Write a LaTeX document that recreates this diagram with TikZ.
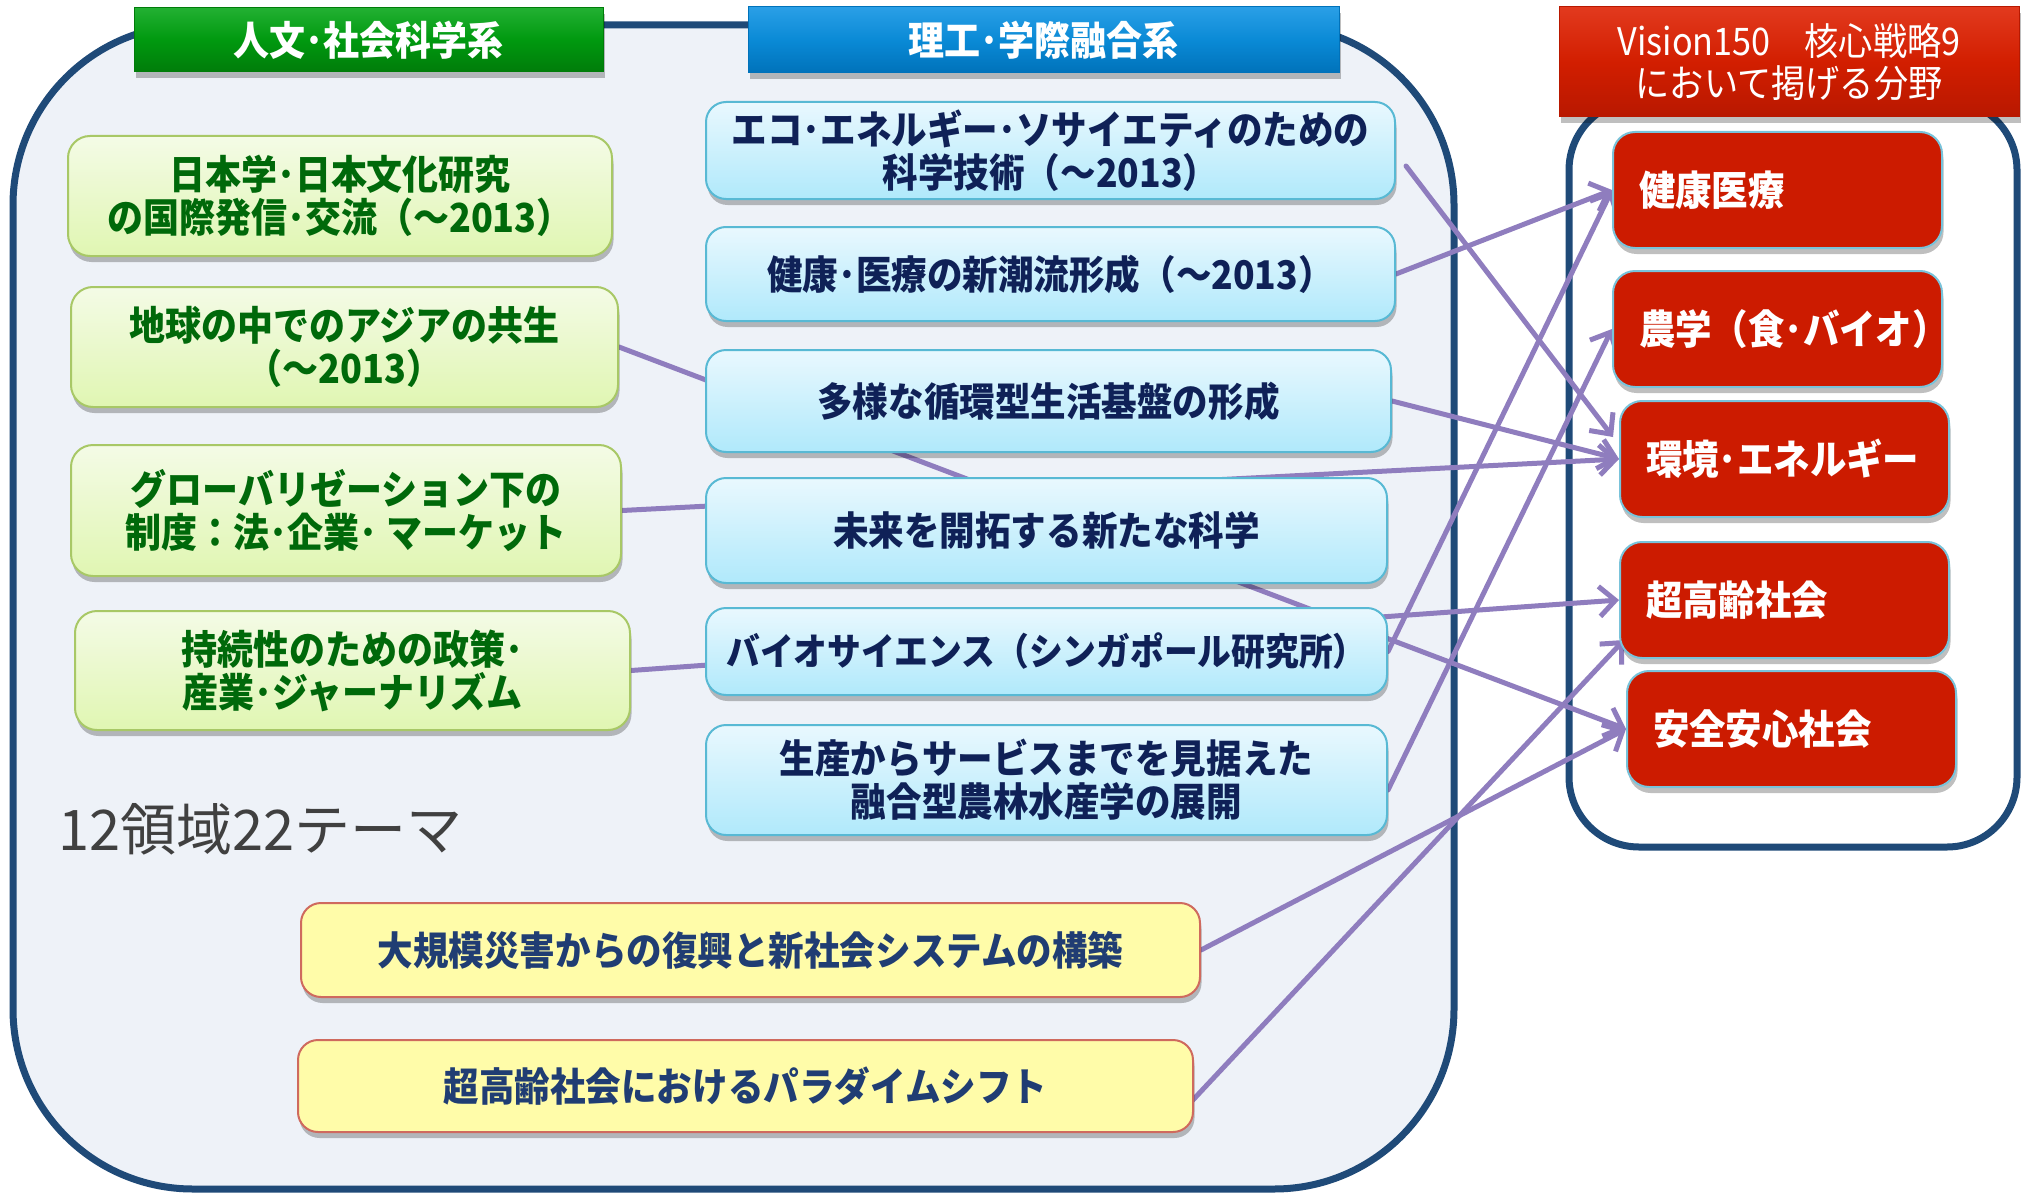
\documentclass[tikz,border=0pt]{standalone}
\usepackage{fontspec}
\setmainfont{Noto Sans CJK JP}
\newfontfamily\condjp{Noto Sans CJK JP}[FakeStretch=0.9]
\usetikzlibrary{arrows.meta,shadows,calc}
\pgfdeclarelayer{back}
\pgfdeclarelayer{lines}
\pgfsetlayers{back,lines,main}

\definecolor{bgfill}{HTML}{EEF2F8}
\definecolor{navy}{HTML}{1F4A78}
\definecolor{lav}{HTML}{8F7DBE}
\definecolor{hgmain}{HTML}{00990F}
\definecolor{hgtop}{HTML}{22B032}
\definecolor{hgbot}{HTML}{007C0A}
\definecolor{hbmain}{HTML}{0A8AD6}
\definecolor{hbtop}{HTML}{2A9FE6}
\definecolor{hbbot}{HTML}{0072BA}
\definecolor{hrmain}{HTML}{D21E00}
\definecolor{hrtop}{HTML}{E23A1E}
\definecolor{hrbot}{HTML}{B81800}
\definecolor{gborder}{HTML}{A8C866}
\definecolor{gtop}{HTML}{F4FBE6}
\definecolor{gbot}{HTML}{E0F6B2}
\definecolor{gtext}{HTML}{00690A}
\definecolor{bborder}{HTML}{58B9D4}
\definecolor{btop}{HTML}{E9F8FE}
\definecolor{bbot}{HTML}{B0E9FB}
\definecolor{btext}{HTML}{0F2157}
\definecolor{yfill}{HTML}{FFFCA9}
\definecolor{yborder}{HTML}{CF6A5E}
\definecolor{ytext}{HTML}{203D73}
\definecolor{rfill}{HTML}{CC1B00}
\definecolor{rborder}{HTML}{79C3DA}
\definecolor{graytext}{HTML}{404040}

\tikzset{
  shd/.style={drop shadow={shadow xshift=1.5pt,shadow yshift=-6pt,opacity=0.25,fill=black}},
  hdr/.style={shd, inner sep=0pt, text=white, line width=1pt, align=center},
  gbox/.style={shd, rounded corners=22pt, draw=gborder, line width=2pt, top color=gtop, bottom color=gbot,
    text=gtext, font=\condjp\bfseries\fontsize{40}{43}\selectfont, align=center, inner sep=0pt},
  bbox/.style={shd, rounded corners=20pt, draw=bborder, line width=2pt, top color=btop, bottom color=bbot,
    text=btext, font=\condjp\bfseries\fontsize{39.5}{43}\selectfont, align=center, inner sep=0pt},
  ybox/.style={shd, rounded corners=20pt, draw=yborder, line width=2pt, fill=yfill,
    text=ytext, font=\condjp\bfseries\fontsize{39.5}{43}\selectfont, align=center, inner sep=0pt},
  rbox/.style={shd, rounded corners=22pt, draw=rborder, line width=2pt, fill=rfill,
    text=white, font=\condjp\bfseries\fontsize{40.5}{43}\selectfont, align=left, inner ysep=0pt, inner xsep=26pt,
    minimum width=329pt, text width=277pt, minimum height=116pt},
  conn/.style={draw=lav, line width=5pt, line cap=round, -{Straight Barb[length=16pt,width=30pt]}}
}

\begin{document}
\begin{tikzpicture}[x=1pt,y=-1pt]
\useasboundingbox (0,0) rectangle (2031,1196);

\begin{pgfonlayer}{back}
\draw[navy, line width=7pt, fill=bgfill, rounded corners=180pt] (13,25) rectangle (1454,1189);
\draw[navy, line width=7pt, fill=white, rounded corners=70pt] (1569,100) rectangle (2017,847);
\end{pgfonlayer}

% headers
\node[hdr, draw=hgbot, top color=hgtop, bottom color=hgbot, middle color=hgmain,
  minimum width=469pt, minimum height=64pt, font=\condjp\bfseries\fontsize{40}{42}\selectfont] (hg) at (368.5,40) {人文･社会科学系};
\node[hdr, draw=hbbot, top color=hbtop, bottom color=hbbot, middle color=hbmain,
  minimum width=591pt, minimum height=66pt, font=\condjp\bfseries\fontsize{40}{42}\selectfont] (hb) at (1043.5,40) {理工･学際融合系};
\node[hdr, draw=hrbot, top color=hrtop, bottom color=hrbot, middle color=hrmain,
  minimum width=460pt, minimum height=110pt, font=\condjp\fontsize{38}{42}\selectfont] (hr) at (1789,62) {Vision150　核心戦略9\\において掲げる分野};

% green boxes
\node[gbox, minimum width=544pt, minimum height=120pt] (g1) at (340,196) {日本学･日本文化研究\\の国際発信･交流（～2013）};
\node[gbox, minimum width=547pt, minimum height=120pt] (g2) at (344.5,347) {地球の中でのアジアの共生\\（～2013）};
\node[gbox, minimum width=550pt, minimum height=131pt] (g3) at (346,510.5) {グローバリゼーション下の\\制度：法･企業･ マーケット};
\node[gbox, minimum width=555pt, minimum height=119pt] (g4) at (352.5,670.5) {持続性のための政策･\\産業･ジャーナリズム};

\node[anchor=west, text=graytext, font=\fontsize{56}{60}\selectfont, inner sep=0pt] (t) at (58,829) {12領域22テーマ};

% blue boxes
\node[bbox, minimum width=689pt, minimum height=97pt] (b1) at (1050.5,150.5) {エコ･エネルギー･ソサイエティのための\\科学技術（～2013）};
\node[bbox, minimum width=689pt, minimum height=94pt] (b2) at (1050.5,274) {健康･医療の新潮流形成（～2013）};
\node[bbox, minimum width=685pt, minimum height=102pt] (b3) at (1048.5,401) {多様な循環型生活基盤の形成};
\node[bbox, minimum width=681pt, minimum height=105pt] (b4) at (1046.5,530.5) {未来を開拓する新たな科学};
\node[bbox, minimum width=681pt, minimum height=87pt, font=\condjp\bfseries\fontsize{37.5}{43}\selectfont] (b5) at (1046.5,651.5) {バイオサイエンス（シンガポール研究所）};
\node[bbox, minimum width=681pt, minimum height=110pt] (b6) at (1046.5,780) {生産からサービスまでを見据えた\\融合型農林水産学の展開};

% yellow boxes
\node[ybox, minimum width=899pt, minimum height=94pt] (y1) at (750.5,950) {大規模災害からの復興と新社会システムの構築};
\node[ybox, minimum width=895pt, minimum height=92pt] (y2) at (745.5,1086) {超高齢社会におけるパラダイムシフト};

% red boxes
\node[rbox] (r1) at (1777.5,190) {健康医療};
\node[rbox] (r2) at (1777.5,329) {農学（食･バイオ）};
\node[rbox] (r3) at (1784.5,459) {環境･エネルギー};
\node[rbox] (r4) at (1784.5,600) {超高齢社会};
\node[rbox] (r5) at (1791.5,729) {安全安心社会};

\begin{pgfonlayer}{lines}
\draw[conn] ($(b1.east)+(10,15.5)$) -- ($(r3.west)+(-6,-22)$);
\draw[conn] (b2.east) -- (r1.west);
\draw[conn] (b3.east) -- (r3.west);
\draw[conn] (g3.east) -- (r3.west);
\draw[conn] (g2.east) -- (r5.west);
\draw[conn] (g4.east) -- (r4.west);
\draw[conn] (b5.east) -- (r1.west);
\draw[conn] ($(b6.east)+(0,10)$) -- (r2.west);
\draw[conn] (y1.east) -- (r5.west);
\draw[conn] ($(y2.east)+(-3,16)$) -- ($(r4.west)+(5,40)$);
\end{pgfonlayer}
\end{tikzpicture}
\end{document}
